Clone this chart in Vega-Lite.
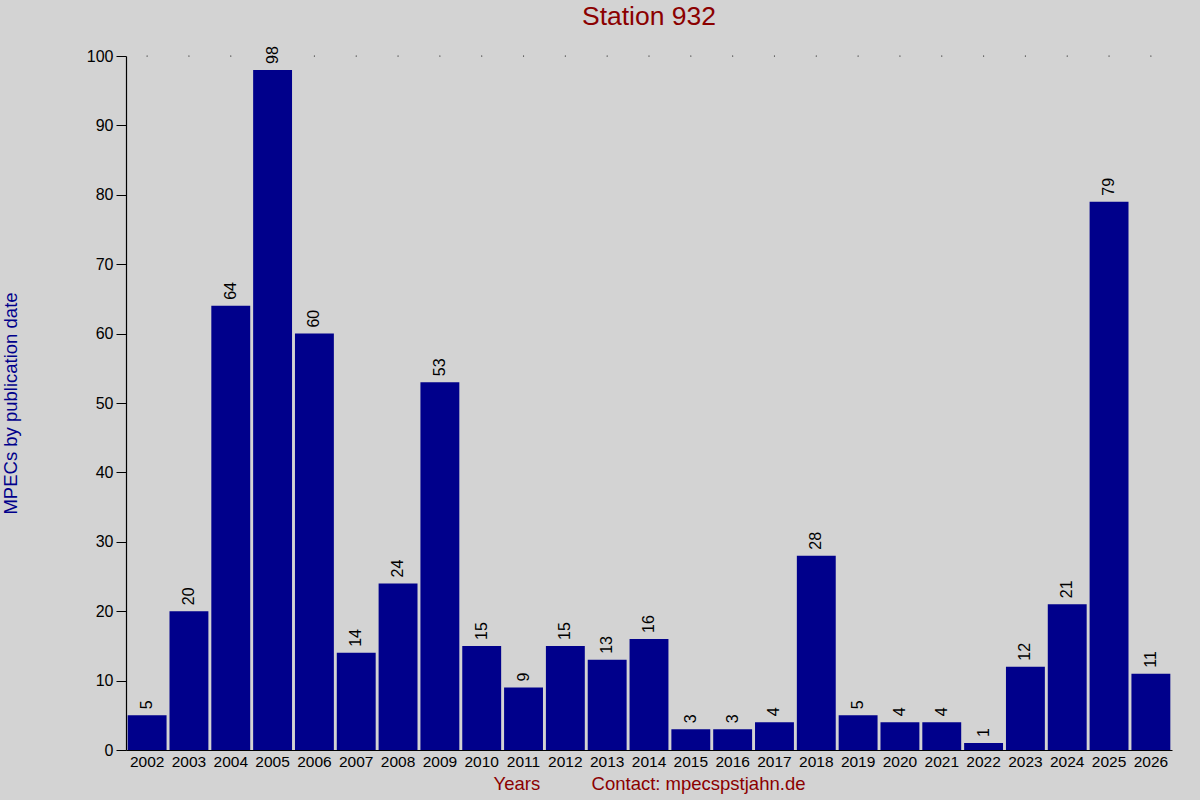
{
  "$schema": "https://vega.github.io/schema/vega-lite/v6.json",
  "width": 1046,
  "height": 694,
  "autosize": {"type": "none"},
  "padding": {"left": 126, "top": 56, "right": 28, "bottom": 50},
  "background": "#d3d3d3",
  "title": {
    "text": "Station 932",
    "color": "#8b0000",
    "fontSize": 26.5,
    "fontWeight": "normal",
    "font": "Liberation Sans",
    "anchor": "middle",
    "offset": 16
  },
  "data": {
    "values": [
      {"year": "2002", "count": 5},
      {"year": "2003", "count": 20},
      {"year": "2004", "count": 64},
      {"year": "2005", "count": 98},
      {"year": "2006", "count": 60},
      {"year": "2007", "count": 14},
      {"year": "2008", "count": 24},
      {"year": "2009", "count": 53},
      {"year": "2010", "count": 15},
      {"year": "2011", "count": 9},
      {"year": "2012", "count": 15},
      {"year": "2013", "count": 13},
      {"year": "2014", "count": 16},
      {"year": "2015", "count": 3},
      {"year": "2016", "count": 3},
      {"year": "2017", "count": 4},
      {"year": "2018", "count": 28},
      {"year": "2019", "count": 5},
      {"year": "2020", "count": 4},
      {"year": "2021", "count": 4},
      {"year": "2022", "count": 1},
      {"year": "2023", "count": 12},
      {"year": "2024", "count": 21},
      {"year": "2025", "count": 79},
      {"year": "2026", "count": 11}
    ]
  },
  "encoding": {
    "x": {
      "field": "year",
      "type": "ordinal",
      "scale": {"paddingInner": 0.07, "paddingOuter": 0.04},
      "axis": {
        "title": "Years\u00a0\u00a0\u00a0\u00a0\u00a0\u00a0\u00a0\u00a0\u00a0\u00a0Contact: mpecspstjahn.de",
        "titleColor": "#8b0000",
        "titleFontSize": 18.5,
        "titleFontWeight": "normal",
        "titlePadding": 5,
        "labelAngle": 0,
        "labelFontSize": 15.5,
        "labelPadding": 4,
        "ticks": false
      }
    },
    "y": {
      "field": "count",
      "type": "quantitative",
      "scale": {"domain": [0, 100], "nice": false},
      "axis": {
        "title": "MPECs by publication date",
        "titleColor": "#00008b",
        "titleFontSize": 18.5,
        "titleFontWeight": "normal",
        "titlePadding": 66,
        "values": [0, 10, 20, 30, 40, 50, 60, 70, 80, 90, 100],
        "labelFontSize": 16,
        "tickSize": 10,
        "labelPadding": 3,
        "grid": false
      }
    }
  },
  "layer": [
    {"mark": {"type": "bar", "color": "#00008b"}},
    {
      "mark": {
        "type": "text",
        "angle": 270,
        "align": "left",
        "baseline": "middle",
        "dx": 6,
        "fontSize": 16,
        "color": "#000000"
      },
      "encoding": {"text": {"field": "count", "type": "quantitative"}}
    },
    {
      "mark": {"type": "point", "filled": true, "size": 1.5, "color": "#000000", "opacity": 1},
      "encoding": {"y": {"datum": 100}}
    }
  ],
  "config": {
    "font": "Liberation Sans",
    "view": {"stroke": null},
    "axis": {
      "domainColor": "#000000",
      "tickColor": "#000000",
      "labelColor": "#000000",
      "labelFont": "Liberation Sans",
      "titleFont": "Liberation Sans",
      "domainWidth": 1.2
    }
  }
}
